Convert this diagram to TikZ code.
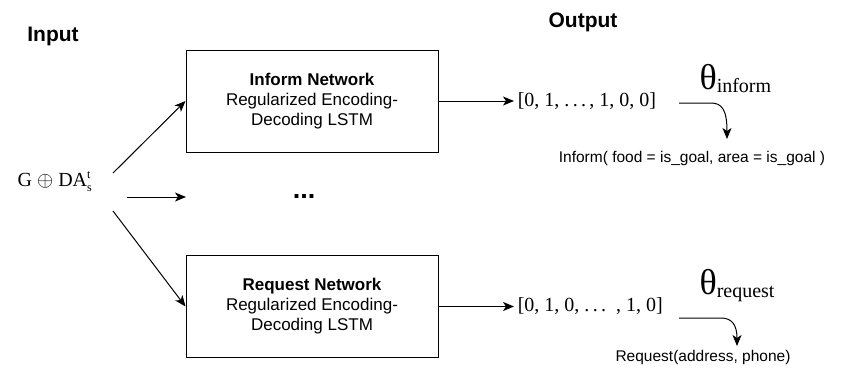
\documentclass[tikz,border=0pt]{standalone}
\usepackage{fontspec}
\setmainfont{Liberation Sans}
\newfontfamily\timesfont{Liberation Serif}
\usetikzlibrary{calc,shapes,arrows,arrows.meta}

\begin{document}
\begin{tikzpicture}[x=1pt,y=-1pt,line width=1pt,
        tip/.style={-{Stealth[length=11pt,width=9pt,inset=3pt]}},
        net/.style={draw,minimum width=252pt,minimum height=102pt,align=center,
            font=\fontsize{17}{20}\selectfont},
        head/.style={font=\fontsize{21}{21}\selectfont\bfseries},
        vec/.style={anchor=west,font=\timesfont\fontsize{20}{20}\selectfont},
        act/.style={font=\fontsize{15.5}{15.5}\selectfont}]
    \useasboundingbox (0,0) rectangle (857,368);
    \node[head] (input) at (53,36) {Input};
    \node[head] (output) at (583,22) {Output};
    \node[font=\timesfont\fontsize{20}{20}\selectfont] (state) at (55,182)
        {G $\oplus$ DA$^{\hbox{\fontsize{12}{12}\selectfont t}}_{\hbox{\fontsize{12}{12}\selectfont s}}$};
    \node[net] (inform) at (312,101) {\textbf{Inform Network}\\Regularized Encoding-\\Decoding LSTM};
    \node[net] (request) at (312,306.5) {\textbf{Request Network}\\Regularized Encoding-\\Decoding LSTM};
    \node[font=\fontsize{27}{27}\selectfont\bfseries] (dots) at (304,196) {...};
    % input arrows
    \coordinate (up) at (113,173);
    \coordinate (mid) at (127,197);
    \coordinate (midend) at (186,197);
    \coordinate (low) at (113,211);
    \draw[tip] (up) -- (inform.west);
    \draw[tip] (mid) -- (midend);
    \draw[tip] (low) -- (request.west);
    % outputs
    \node[vec] (ivec) at (514,101) {[0, 1, .\,.\,.\,, 1, 0, 0]};
    \node[vec] (rvec) at (514,306.5) {[0, 1, 0, .\,.\,.\, , 1, 0]};
    \draw[tip] (inform.east) -- (ivec.west);
    \draw[tip] (request.east) -- (rvec.west);
    \node[anchor=base west,inner sep=0pt,font=\timesfont] (ith) at (699,89)
        {{\fontsize{36}{36}\selectfont θ}\raisebox{-3pt}{\fontsize{20}{20}\selectfont inform}};
    \node[anchor=base west,inner sep=0pt,font=\timesfont] (rth) at (699,294)
        {{\fontsize{36}{36}\selectfont θ}\raisebox{-3pt}{\fontsize{20}{20}\selectfont request}};
    \coordinate (ib) at (679,103);
    \coordinate (ie) at (727,139);
    \coordinate (rb) at (679,318);
    \coordinate (re) at (737,346);
    \draw[tip] (ib) -- ++(32,0) .. controls (722,103) and (727,110) .. (ie);
    \draw[tip] (rb) -- ++(42,0) .. controls (732,318) and (737,325) .. (re);
    \node[act] (iact) at (692,158) {Inform( food = is\_goal, area = is\_goal )};
    \node[act] (ract) at (703,357) {Request(address, phone)};
\end{tikzpicture}
\end{document}
